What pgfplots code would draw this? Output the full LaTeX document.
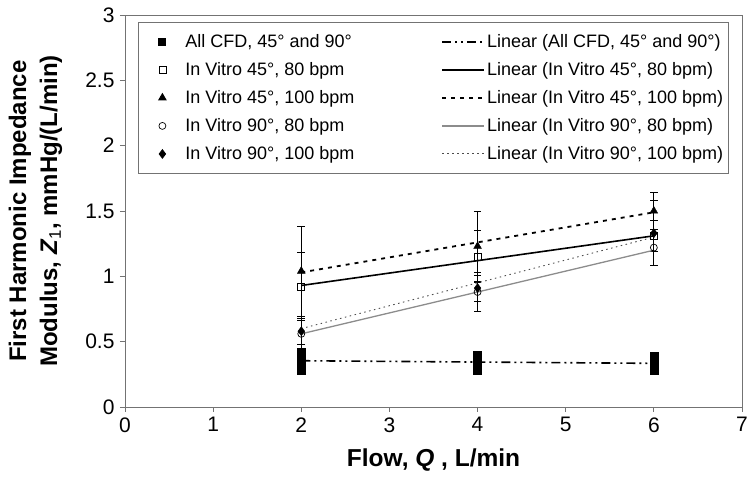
\documentclass[border=0pt]{standalone}
\usepackage{pgfplots}
\pgfplotsset{compat=1.18}
\usepackage{fontspec}
\setmainfont{Liberation Sans}
\definecolor{frame}{gray}{0.45}
\pgfplotsset{
  myleg/.style={legend image code/.code={\draw[mark repeat=2,mark phase=2,##1] plot coordinates {(0pt,0pt) (21pt,0pt) (42pt,0pt)};}},
  markleg/.style={legend image code/.code={\path[draw=none,fill=none] (0pt,0pt) -- (42pt,0pt); \path[##1, draw=none] plot[only marks] coordinates {(21pt,0pt)};}}
}
\begin{document}
\begin{tikzpicture}
\path[use as bounding box] (0,0) rectangle (750pt,484pt);
\begin{axis}[
  at={(125pt,77pt)}, anchor=south west, scale only axis,
  width=617pt, height=392pt,
  xmin=0, xmax=7, ymin=0, ymax=3,
  xtick={0,1,...,7}, ytick={0,0.5,1,1.5,2,2.5,3},
  xtick pos=left, ytick pos=left, tick align=outside,
  major tick length=5pt,
  axis line style={frame, line width=0.9pt},
  tick style={frame, line width=0.9pt},
  /pgf/number format/assume math mode=true,
  ticklabel style={font=\fontsize{21}{24}\selectfont},
  xticklabel style={yshift=-2pt},
  yticklabel style={xshift=-2pt},
  xlabel={Flow, \textit{Q} , L/min},
  xlabel style={font=\bfseries\fontsize{24.5}{28}\selectfont, at={(axis description cs:0.5,-0.153)}, anchor=base},
  ylabel={First Harmonic Impedance\\Modulus, \textit{Z}\textsubscript{\textmd{1}}, mmHg/(L/min)},
  ylabel style={font=\bfseries\fontsize{24}{31}\selectfont, align=center, at={(axis description cs:-0.096,0.5)}, anchor=south},
  legend columns=2, legend cell align=left,
  legend style={at={(rel axis cs:0.021,0.982)}, anchor=north west, draw=frame, line width=0.9pt,
    font=\fontsize{18}{21}\selectfont, row sep=9.5pt, inner ysep=10pt,
    /tikz/every even column/.append style={column sep=85pt}},
  error bars/error bar style={black, line width=0.9pt},
  error bars/error mark options={rotate=90, black, mark size=3.8pt, line width=0.9pt},
]
% All CFD
\addplot[only marks, mark=square*, mark size=4pt, black, forget plot] coordinates {
 (2,0.28) (2,0.31) (2,0.34) (2,0.37) (2,0.40) (2,0.42)
 (4,0.28) (4,0.31) (4,0.34) (4,0.37) (4,0.40)
 (6,0.28) (6,0.31) (6,0.34) (6,0.37) (6,0.39)};
\addlegendimage{markleg, black, mark=square*, mark size=3.5pt}
\addlegendentry{All CFD, 45° and 90°}
\addplot[black, line width=1.6pt, dash pattern=on 9pt off 4pt on 2pt off 4pt on 2pt off 4pt, myleg] coordinates {(2,0.354) (6,0.334)};
\addlegendentry{Linear (All CFD, 45° and 90°)}
% In vitro 45, 80
\addplot[only marks, mark=square, mark size=3.5pt, black, mark options={line width=0.7pt}, forget plot,
  error bars/.cd, y dir=both, y explicit] table[x=x, y=y, y error=e] {
x y e
2 0.92 0.26
4 1.15 0.20
6 1.31 0.12
};
\addlegendimage{markleg, black, mark=square, mark size=3.5pt, mark options={line width=0.7pt, draw=black}}
\addlegendentry{In Vitro 45°, 80 bpm}
\addplot[black, line width=1.6pt, myleg] coordinates {(2,0.93) (6,1.31)};
\addlegendentry{Linear (In Vitro 45°, 80 bpm)}
% In vitro 45, 100
\addplot[only marks, mark=triangle*, mark size=4.5pt, black, forget plot,
  error bars/.cd, y dir=both, y explicit] table[x=x, y=y, y error=e] {
x y e
2 1.04 0.345
4 1.23 0.27
6 1.50 0.14
};
\addlegendimage{markleg, black, mark=triangle*, mark size=4.2pt, mark options={draw=black, fill=black}}
\addlegendentry{In Vitro 45°, 100 bpm}
\addplot[black, line width=1.8pt, dash pattern=on 4pt off 5pt, myleg] coordinates {(2,1.03) (6,1.49)};
\addlegendentry{Linear (In Vitro 45°, 100 bpm)}
% In vitro 90, 80
\addplot[only marks, mark=o, mark size=3.5pt, black, mark options={line width=0.7pt}, forget plot,
  error bars/.cd, y dir=both, y explicit] table[x=x, y=y, y error=e] {
x y e
2 0.56 0.12
4 0.88 0.15
6 1.22 0.14
};
\addlegendimage{markleg, black, mark=o, mark size=3.5pt, mark options={line width=0.7pt, draw=black}}
\addlegendentry{In Vitro 90°, 80 bpm}
\addplot[black!45, line width=1.3pt, myleg] coordinates {(2,0.56) (6,1.20)};
\addlegendentry{Linear (In Vitro 90°, 80 bpm)}
% In vitro 90, 100
\addplot[only marks, mark=diamond*, mark size=4.5pt, black, forget plot,
  error bars/.cd, y dir=both, y explicit] table[x=x, y=y, y error=e] {
x y e
2 0.58 0.10
4 0.91 0.10
6 1.33 0.25
};
\addlegendimage{markleg, black, mark=diamond*, mark size=4.2pt, mark options={draw=black, fill=black}}
\addlegendentry{In Vitro 90°, 100 bpm}
\addplot[black!70, line width=0.9pt, dash pattern=on 1.5pt off 3.5pt, myleg] coordinates {(2,0.60) (6,1.30)};
\addlegendentry{Linear (In Vitro 90°, 100 bpm)}
\end{axis}
\end{tikzpicture}
\end{document}
